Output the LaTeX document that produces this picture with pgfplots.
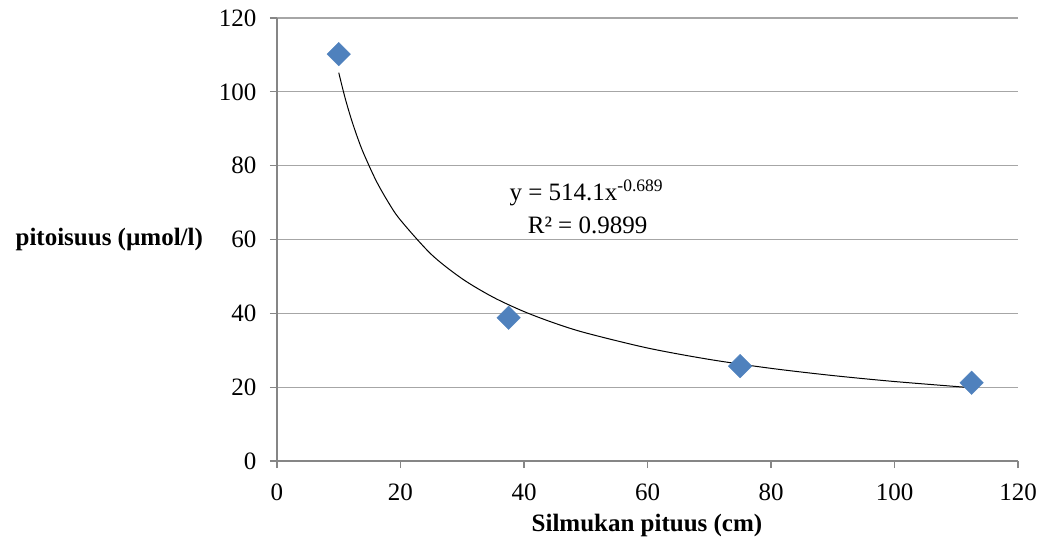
\documentclass[border=0pt]{standalone}
\usepackage{pgfplots}
\pgfplotsset{compat=1.18}
\usepackage{fontspec}
\setmainfont{Liberation Serif}
\definecolor{mkblue}{HTML}{4F81BD}
\definecolor{gridgray}{HTML}{A6A6A6}
\definecolor{axgray}{HTML}{868686}
\begin{document}
\begin{tikzpicture}
\begin{axis}[
  at={(0pt,0pt)}, anchor=origin,
  scale only axis, width=741pt, height=443pt,
  xmin=0, xmax=120, ymin=0, ymax=120,
  xtick={0,20,...,120}, ytick={0,20,...,120},
  axis x line*=bottom, axis y line*=left,
  axis line style={axgray, line width=1.2pt, -},
  ymajorgrids, grid style={gridgray, line width=1.2pt},
  tick style={axgray, line width=1.2pt},
  tick align=outside, major tick length=7pt,
  /pgf/number format/assume math mode=true,
  ticklabel style={font=\fontsize{25}{28}\selectfont, text=black},
  xticklabel style={yshift=-12pt},
  yticklabel style={xshift=-10pt},
  xlabel={\textbf{Silmukan pituus (cm)}},
  ylabel={\textbf{pitoisuus (µmol/l)}},
  label style={font=\fontsize{25}{28}\selectfont},
  xlabel style={at={(axis description cs:0.4993,-0.145)}, anchor=center},
  ylabel style={rotate=-90, at={(axis description cs:-0.3575,0.499)}, anchor=west},
  clip=false,
]
\addplot[only marks, mark=square*, mark size=8.3pt, mark options={rotate=45, fill=mkblue, draw=mkblue}]
  coordinates {(10,110.2) (37.5,38.8) (75,25.7) (112.5,21.2)};
\addplot[black, line width=1pt, smooth, tension=0.5] coordinates {
  (10,105.2) (11,98.51) (12,92.78) (13,87.80) (14,83.43) (16,76.10) (18,70.16)
  (20,65.25) (25,55.95) (30,49.35) (35,44.37) (40,40.48) (45,37.32) (50,34.70)
  (60,30.61) (70,27.52) (80,25.10) (90,23.15) (100,21.53) (112.5,19.85)};
\node[font=\fontsize{25}{28}\selectfont, anchor=center] at (axis cs:50.1,72.6) {y = 514.1x\textsuperscript{-0.689}};
\node[font=\fontsize{25}{28}\selectfont, anchor=center] at (axis cs:50.3,63.9) {R² = 0.9899};
\end{axis}
\pgfresetboundingbox
\path (-277pt,-81pt) rectangle (771pt,461pt);
\end{tikzpicture}
\end{document}
